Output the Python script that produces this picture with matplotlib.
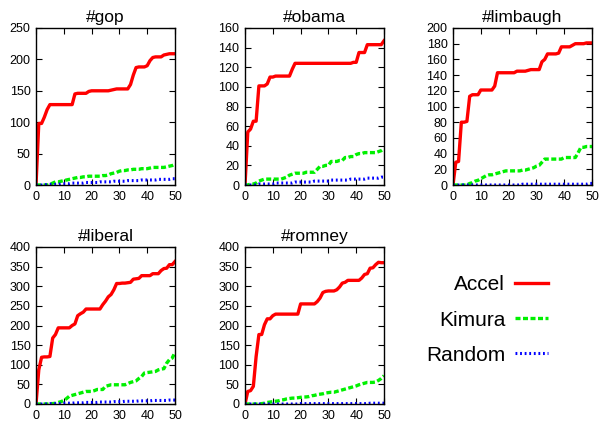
import matplotlib
matplotlib.use('Agg')
import matplotlib.pyplot as plt

plt.rcParams['font.family'] = ['Liberation Sans', 'DejaVu Sans']

steps = list(range(51))

# values, one per step 0..50
gop_accel = [0, 98, 98, 108, 120, 128, 128, 128, 128, 128,
             128, 128, 128, 128, 145, 146, 146, 146, 146, 149,
             150, 150, 150, 150, 150, 150, 150, 151, 152, 153,
             153, 153, 153, 153, 160, 175, 187, 188, 188, 188,
             190, 198, 203, 204, 204, 204, 207, 208, 209, 209,
             209]
gop_kimura = [0, 0, 0, 0, 0, 1, 3, 5, 5, 6,
              7, 8, 9, 10, 11, 12, 12, 13, 13, 14,
              14, 14, 14, 14, 15, 15, 16, 18, 19, 20,
              22, 23, 23, 24, 24, 25, 25, 25, 26, 26,
              26, 27, 28, 28, 28, 28, 28, 29, 30, 31,
              33]
gop_random = [0, 0, 0, 0, 1, 1, 1, 1, 1, 2,
              2, 2, 2, 3, 3, 3, 3, 3, 4, 4,
              4, 4, 4, 5, 5, 5, 5, 5, 6, 6,
              6, 6, 6, 7, 7, 7, 7, 7, 8, 8,
              8, 8, 8, 8, 9, 9, 9, 9, 9, 10,
              10]

obama_accel = [0, 54, 57, 65, 65, 101, 101, 101, 103, 110,
               110, 111, 111, 111, 111, 111, 111, 118, 124, 124,
               124, 124, 124, 124, 124, 124, 124, 124, 124, 124,
               124, 124, 124, 124, 124, 124, 124, 124, 124, 125,
               125, 135, 135, 135, 143, 143, 143, 143, 143, 143,
               147]
obama_kimura = [0, 0, 1, 1, 2, 4, 5, 6, 6, 6,
                6, 6, 6, 6, 7, 8, 10, 11, 12, 12,
                12, 12, 13, 13, 13, 13, 16, 19, 19, 20,
                20, 24, 24, 24, 25, 25, 28, 28, 29, 29,
                31, 32, 32, 33, 33, 33, 33, 33, 34, 35,
                37]
obama_random = [0, 0, 0, 0, 0, 1, 1, 1, 1, 1,
                1, 2, 2, 2, 2, 2, 2, 2, 3, 3,
                3, 3, 3, 3, 3, 4, 4, 4, 4, 4,
                4, 5, 5, 5, 5, 5, 5, 5, 6, 6,
                6, 6, 6, 6, 7, 7, 7, 7, 7, 8,
                8]

limbaugh_accel = [0, 29, 30, 80, 80, 81, 113, 115, 115, 115,
                  121, 121, 121, 121, 121, 126, 143, 143, 143, 143,
                  143, 143, 143, 145, 145, 145, 145, 146, 147, 147,
                  147, 147, 157, 160, 167, 167, 167, 167, 168, 176,
                  176, 176, 176, 178, 180, 180, 180, 180, 181, 181,
                  181]
limbaugh_kimura = [0, 0, 0, 0, 0, 0, 2, 3, 5, 6,
                   8, 10, 12, 13, 13, 14, 15, 16, 17, 18,
                   18, 18, 18, 18, 18, 19, 19, 20, 21, 22,
                   24, 25, 29, 33, 33, 33, 33, 33, 33, 33,
                   35, 35, 35, 35, 35, 41, 48, 48, 49, 49,
                   49]
limbaugh_random = [0, 0, 0, 0, 0, 0, 0, 0, 0, 0,
                   0, 0, 0, 0, 0, 0, 0, 0, 0, 0,
                   0, 0, 0, 0, 0, 1, 1, 1, 1, 1,
                   1, 1, 1, 1, 1, 1, 1, 1, 1, 1,
                   1, 1, 1, 1, 1, 1, 1, 1, 1, 2,
                   2]

liberal_accel = [0, 87, 119, 120, 120, 121, 168, 177, 194, 194,
                 194, 194, 194, 200, 204, 225, 230, 234, 242, 242,
                 242, 242, 242, 242, 253, 262, 273, 279, 291, 307,
                 307, 308, 308, 309, 310, 318, 319, 320, 327, 327,
                 327, 327, 332, 332, 332, 340, 345, 346, 355, 355,
                 363]
liberal_kimura = [0, 0, 0, 0, 0, 1, 1, 2, 4, 6,
                  9, 14, 20, 22, 24, 26, 28, 30, 32, 32,
                  32, 34, 37, 37, 37, 45, 47, 49, 49, 49,
                  49, 49, 49, 52, 55, 57, 59, 65, 70, 79,
                  80, 81, 82, 83, 87, 89, 90, 104, 113, 117,
                  132]
liberal_random = [0, 0, 0, 0, 0, 1, 1, 1, 1, 1,
                  2, 2, 2, 2, 3, 3, 3, 3, 4, 4,
                  4, 4, 4, 5, 5, 5, 5, 5, 6, 6,
                  6, 6, 7, 7, 7, 7, 7, 8, 8, 8,
                  8, 8, 9, 9, 9, 9, 9, 9, 10, 10,
                  10]

romney_accel = [0, 32, 34, 45, 121, 177, 177, 202, 217, 217,
                225, 229, 229, 229, 229, 229, 229, 229, 229, 229,
                255, 255, 255, 255, 255, 255, 261, 270, 284, 287,
                288, 288, 288, 291, 298, 308, 310, 315, 315, 315,
                315, 315, 321, 330, 332, 346, 347, 355, 361, 360,
                360]
romney_kimura = [0, 0, 0, 0, 0, 0, 1, 2, 4, 5,
                 6, 7, 8, 10, 11, 13, 14, 15, 15, 16,
                 17, 18, 18, 19, 21, 22, 24, 25, 26, 28,
                 29, 30, 30, 32, 34, 36, 38, 40, 42, 44,
                 46, 49, 51, 53, 55, 55, 55, 56, 60, 65,
                 72]
romney_random = [0] * 20 + [1] * 25 + [2] * 6

titles = ['#gop', '#obama', '#limbaugh', '#liberal', '#romney']
ymax = [250, 160, 200, 400, 400]
ystep = [50, 20, 20, 50, 50]
series = [
    (gop_accel, gop_kimura, gop_random),
    (obama_accel, obama_kimura, obama_random),
    (limbaugh_accel, limbaugh_kimura, limbaugh_random),
    (liberal_accel, liberal_kimura, liberal_random),
    (romney_accel, romney_kimura, romney_random),
]

# axes boxes in pixels (left, top) of a 600x430 canvas
boxes = [(36, 28), (245, 28), (453, 28), (36, 247), (245, 247)]
W, H = 600, 430
aw, ah = 139, 157

fig = plt.figure(figsize=(6, 4.3), dpi=100)

for i, (l, t) in enumerate(boxes):
    ax = fig.add_axes([l / W, 1 - (t + ah) / H, aw / W, ah / H])
    accel, kimura, rnd = series[i]
    ax.plot(steps, accel, color='#ff0000', lw=2.4, label='Accel')
    ax.plot(steps, kimura, color='#00f000', lw=2.4,
            linestyle=(0, (1.5, 0.75)), label='Kimura')
    ax.plot(steps, rnd, color='#0000ff', lw=2.2,
            linestyle=(0, (0.6, 0.9)), label='Random')
    ax.set_xlim(0, 50)
    ax.set_ylim(0, ymax[i])
    ax.set_xticks(range(0, 51, 10))
    ax.set_yticks(range(0, ymax[i] + 1, ystep[i]))
    ax.tick_params(direction='in', top=True, right=True, length=4,
                   labelsize=9, pad=4, width=0.8)
    for s in ax.spines.values():
        s.set_linewidth(1.0)
    ax.set_title(titles[i], fontsize=12.5, pad=4)
    if i == 0:
        handles, labels = ax.get_legend_handles_labels()

fig.legend(handles, labels, loc='center', bbox_to_anchor=(487 / W, 1 - 320 / H),
           markerfirst=False, frameon=False, fontsize=15,
           handlelength=1.6, labelspacing=0.78, handletextpad=0.45)

fig.savefig('out.png', dpi=100)
